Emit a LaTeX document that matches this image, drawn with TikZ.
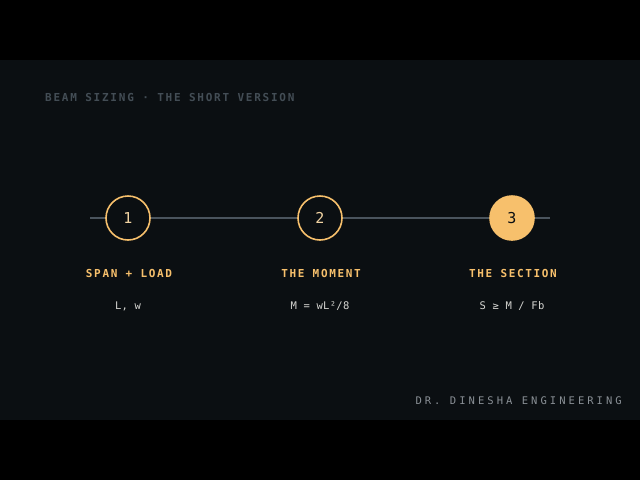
\documentclass[tikz,border=0pt]{standalone}
\usepackage{fontspec}
\usepackage{xcolor}
\setmonofont{DejaVu Sans Mono}
\newfontfamily\spacedmono[LetterSpace=16,BoldFont={DejaVu Sans Mono Bold}]{DejaVu Sans Mono}
\newfontfamily\widemono[LetterSpace=29]{DejaVu Sans Mono}
\newfontfamily\labelmono[LetterSpace=15,BoldFont={DejaVu Sans Mono Bold}]{DejaVu Sans Mono}
\newfontfamily\formmono[LetterSpace=3]{DejaVu Sans Mono}
\definecolor{panel}{HTML}{0B0F12}
\definecolor{amber}{HTML}{F7C06C}
\definecolor{numtext}{HTML}{F1D3A2}
\definecolor{rail}{HTML}{4A545D}
\definecolor{dimtext}{HTML}{434D55}
\definecolor{foottext}{HTML}{8A9096}
\definecolor{formtext}{HTML}{D6D6D2}

\begin{document}
\begin{tikzpicture}[x=1pt, y=-1pt,
    stepnode/.style={circle, draw=amber, line width=1.6pt, fill=panel, minimum size=44pt, inner sep=0pt, font=\ttfamily\fontsize{15}{15}\selectfont},
    steplabel/.style={anchor=base, text=amber, font=\labelmono\bfseries\fontsize{11}{11}\selectfont},
    stepformula/.style={anchor=base, text=formtext, font=\formmono\fontsize{10.5}{11}\selectfont}]
      \useasboundingbox (0, 0) rectangle (640, 480);
      \fill[black] (0, 0) rectangle (640, 480);
      \fill[panel] (0, 60) rectangle (640, 420);
      % title
      \node [anchor=base west, inner sep=0pt, text=dimtext, font=\spacedmono\bfseries\fontsize{11}{11}\selectfont] (title) at (45, 101) {BEAM SIZING · THE SHORT VERSION};
      % rail and steps
      \coordinate (railstart) at (90, 218);
      \coordinate (railend) at (550, 218);
      \draw[rail, line width=2pt] (railstart) -- (railend);
      \node [stepnode, text=numtext] (span) at (128, 218) {1};
      \node [stepnode, text=numtext] (moment) at (320, 218) {2};
      \node [stepnode, fill=amber, text=panel] (section) at (512, 218) {3};
      % labels
      \node [steplabel] (spanlabel) at (129, 277) {SPAN + LOAD};
      \node [steplabel] (momentlabel) at (321, 277) {THE MOMENT};
      \node [steplabel] (sectionlabel) at (513, 277) {THE SECTION};
      \node [stepformula] (spanformula) at (128, 309) {L, w};
      \node [stepformula] (momentformula) at (320, 309) {M = wL²/8};
      \node [stepformula] (sectionformula) at (512, 309) {S ≥ M / Fb};
      % footer
      \node [anchor=base east, inner sep=0pt, text=foottext, font=\widemono\fontsize{10.5}{11}\selectfont] (footer) at (622, 404) {DR. DINESHA ENGINEERING};
\end{tikzpicture}
\end{document}
